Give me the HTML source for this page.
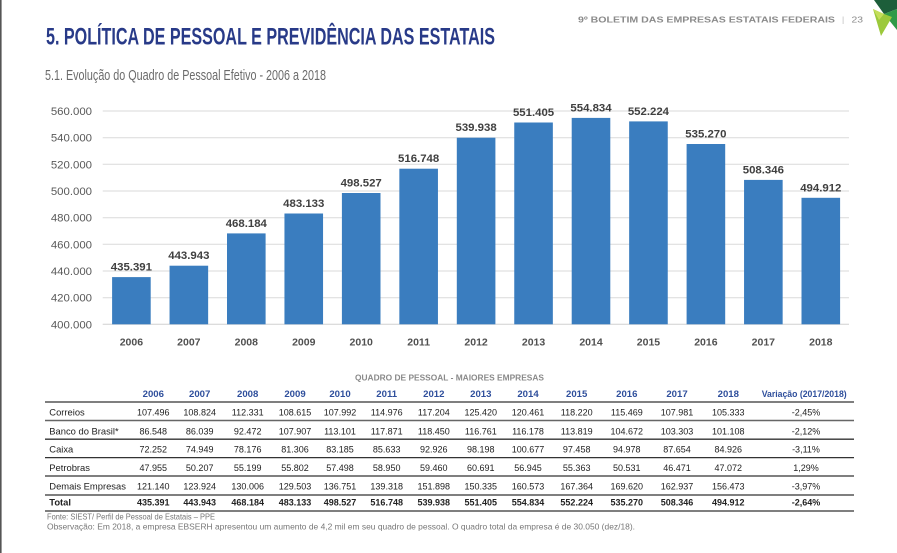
<!DOCTYPE html>
<html><head><meta charset="utf-8">
<style>
html,body{margin:0;padding:0;background:#fff;}
svg{display:block;}
text{font-family:"Liberation Sans",Arial,sans-serif;}
</style></head>
<body>
<svg width="897" height="553" viewBox="0 0 897 553" xmlns="http://www.w3.org/2000/svg">
<rect x="0" y="0" width="897" height="553" fill="#fff"/>
<rect x="0" y="0" width="1.6" height="553" fill="#555"/>

<!-- corner graphic -->
<polygon points="874,0 897,0 897,9 884,14" fill="#1d5e3a"/>
<polygon points="884,14 897,9 897,30" fill="#2f9a47"/>
<polygon points="873,9 884,14 892,17 881,36" fill="#9cc93b"/>
<polygon points="873,9 884,14 879,20" fill="#c4de5a"/>

<!-- header -->
<text x="578" y="22.7" font-size="8.4" font-weight="bold" fill="#8a8a8a" textLength="257" lengthAdjust="spacingAndGlyphs">9º BOLETIM DAS EMPRESAS ESTATAIS FEDERAIS</text>
<text x="842" y="22.7" font-size="8.4" fill="#bbb">|</text>
<text x="851.5" y="22.7" font-size="8.4" fill="#8a8a8a" textLength="11.5" lengthAdjust="spacingAndGlyphs">23</text>

<text x="46" y="44.3" font-size="24" font-weight="bold" fill="#283a88" textLength="449" lengthAdjust="spacingAndGlyphs">5. POLÍTICA DE PESSOAL E PREVIDÊNCIA DAS ESTATAIS</text>
<text x="45" y="80" font-size="14.3" fill="#6b6b6b" textLength="281" lengthAdjust="spacingAndGlyphs">5.1. Evolução do Quadro de Pessoal Efetivo - 2006 a 2018</text>

<!-- gridlines -->
<g stroke="#dadada" stroke-width="1">
<line x1="102.7" x2="849" y1="111" y2="111"/>
<line x1="102.7" x2="849" y1="137.7" y2="137.7"/>
<line x1="102.7" x2="849" y1="164.3" y2="164.3"/>
<line x1="102.7" x2="849" y1="191" y2="191"/>
<line x1="102.7" x2="849" y1="217.7" y2="217.7"/>
<line x1="102.7" x2="849" y1="244.3" y2="244.3"/>
<line x1="102.7" x2="849" y1="271" y2="271"/>
<line x1="102.7" x2="849" y1="297.7" y2="297.7"/>
<line x1="102.7" x2="849" y1="324.3" y2="324.3" stroke="#d0d0d0"/>
</g>
<g font-size="11.4" fill="#595959" text-anchor="end">
<text x="92" y="115">560.000</text>
<text x="92" y="141.7">540.000</text>
<text x="92" y="168.3">520.000</text>
<text x="92" y="195">500.000</text>
<text x="92" y="221.7">480.000</text>
<text x="92" y="248.3">460.000</text>
<text x="92" y="275">440.000</text>
<text x="92" y="301.7">420.000</text>
<text x="92" y="328.3">400.000</text>
</g>

<!-- bars -->
<g fill="#3a7dbf">
<rect x="112.1" y="277.1" width="38.6" height="47.2"/>
<rect x="169.55" y="265.7" width="38.6" height="58.6"/>
<rect x="227" y="233.4" width="38.6" height="90.9"/>
<rect x="284.45" y="213.5" width="38.6" height="110.8"/>
<rect x="341.9" y="193.0" width="38.6" height="131.3"/>
<rect x="399.35" y="168.7" width="38.6" height="155.6"/>
<rect x="456.8" y="137.7" width="38.6" height="186.6"/>
<rect x="514.25" y="122.5" width="38.6" height="201.8"/>
<rect x="571.7" y="117.9" width="38.6" height="206.4"/>
<rect x="629.15" y="121.4" width="38.6" height="202.9"/>
<rect x="686.6" y="144.0" width="38.6" height="180.3"/>
<rect x="744.05" y="179.9" width="38.6" height="144.4"/>
<rect x="801.5" y="197.8" width="38.6" height="126.5"/>
</g>
<g font-size="11.4" font-weight="bold" fill="#404040" text-anchor="middle">
<text x="131.4" y="270.6">435.391</text>
<text x="188.85" y="259.2">443.943</text>
<text x="246.3" y="226.9">468.184</text>
<text x="303.75" y="207">483.133</text>
<text x="361.2" y="186.5">498.527</text>
<text x="418.65" y="162.2">516.748</text>
<text x="476.1" y="131.2">539.938</text>
<text x="533.55" y="116">551.405</text>
<text x="591" y="111.4">554.834</text>
<text x="648.45" y="114.9">552.224</text>
<text x="705.9" y="137.5">535.270</text>
<text x="763.35" y="173.4">508.346</text>
<text x="820.8" y="191.3">494.912</text>
</g>
<g font-size="10.5" font-weight="bold" fill="#505050" text-anchor="middle">
<text x="131.4" y="345.5">2006</text>
<text x="188.85" y="345.5">2007</text>
<text x="246.3" y="345.5">2008</text>
<text x="303.75" y="345.5">2009</text>
<text x="361.2" y="345.5">2010</text>
<text x="418.65" y="345.5">2011</text>
<text x="476.1" y="345.5">2012</text>
<text x="533.55" y="345.5">2013</text>
<text x="591" y="345.5">2014</text>
<text x="648.45" y="345.5">2015</text>
<text x="705.9" y="345.5">2016</text>
<text x="763.35" y="345.5">2017</text>
<text x="820.8" y="345.5">2018</text>
</g>

<!-- table -->
<text x="449.5" y="380.5" font-size="8.5" font-weight="bold" fill="#8a8a8a" text-anchor="middle" textLength="189" lengthAdjust="spacingAndGlyphs">QUADRO DE PESSOAL - MAIORES EMPRESAS</text>
<g font-size="9.6" font-weight="bold" fill="#2f4f9c" text-anchor="middle">
<text x="153.3" y="396.8">2006</text>
<text x="199.7" y="396.8">2007</text>
<text x="247.7" y="396.8">2008</text>
<text x="295" y="396.8">2009</text>
<text x="340" y="396.8">2010</text>
<text x="386.7" y="396.8">2011</text>
<text x="433.8" y="396.8">2012</text>
<text x="480.8" y="396.8">2013</text>
<text x="528" y="396.8">2014</text>
<text x="576.7" y="396.8">2015</text>
<text x="626.8" y="396.8">2016</text>
<text x="677" y="396.8">2017</text>
<text x="728.3" y="396.8">2018</text>
<text x="804.2" y="396.8" textLength="85" lengthAdjust="spacingAndGlyphs">Variação (2017/2018)</text>
</g>
<g stroke="#333" stroke-width="1.3">
<line x1="45" x2="854" y1="402" y2="402"/>
<line x1="45" x2="854" y1="420.5" y2="420.5" stroke="#666" stroke-width="1.6"/>
<line x1="45" x2="854" y1="439.2" y2="439.2"/>
<line x1="45" x2="854" y1="457.6" y2="457.6"/>
<line x1="45" x2="854" y1="476" y2="476"/>
<line x1="45" x2="854" y1="495" y2="495"/>
<line x1="45" x2="854" y1="511" y2="511"/>
</g>
<g font-size="9.4" fill="#222">
<text x="49.3" y="415.7">Correios</text>
<text x="49.3" y="434.3">Banco do Brasil*</text>
<text x="49.3" y="452.7">Caixa</text>
<text x="49.3" y="471">Petrobras</text>
<text x="49.3" y="489.3">Demais Empresas</text>
<text x="49.3" y="505.7" font-weight="bold">Total</text>
</g>
<g font-size="9" fill="#222" text-anchor="middle">
<g transform="translate(0,415.7)">
<text x="153.3">107.496</text><text x="199.7">108.824</text><text x="247.7">112.331</text><text x="295">108.615</text><text x="340">107.992</text><text x="386.7">114.976</text><text x="433.8">117.204</text><text x="480.8">125.420</text><text x="528">120.461</text><text x="576.7">118.220</text><text x="626.8">115.469</text><text x="677">107.981</text><text x="728.3">105.333</text><text x="806">-2,45%</text>
</g>
<g transform="translate(0,434.3)">
<text x="153.3">86.548</text><text x="199.7">86.039</text><text x="247.7">92.472</text><text x="295">107.907</text><text x="340">113.101</text><text x="386.7">117.871</text><text x="433.8">118.450</text><text x="480.8">116.761</text><text x="528">116.178</text><text x="576.7">113.819</text><text x="626.8">104.672</text><text x="677">103.303</text><text x="728.3">101.108</text><text x="806">-2,12%</text>
</g>
<g transform="translate(0,452.7)">
<text x="153.3">72.252</text><text x="199.7">74.949</text><text x="247.7">78.176</text><text x="295">81.306</text><text x="340">83.185</text><text x="386.7">85.633</text><text x="433.8">92.926</text><text x="480.8">98.198</text><text x="528">100.677</text><text x="576.7">97.458</text><text x="626.8">94.978</text><text x="677">87.654</text><text x="728.3">84.926</text><text x="806">-3,11%</text>
</g>
<g transform="translate(0,471)">
<text x="153.3">47.955</text><text x="199.7">50.207</text><text x="247.7">55.199</text><text x="295">55.802</text><text x="340">57.498</text><text x="386.7">58.950</text><text x="433.8">59.460</text><text x="480.8">60.691</text><text x="528">56.945</text><text x="576.7">55.363</text><text x="626.8">50.531</text><text x="677">46.471</text><text x="728.3">47.072</text><text x="806">1,29%</text>
</g>
<g transform="translate(0,489.3)">
<text x="153.3">121.140</text><text x="199.7">123.924</text><text x="247.7">130.006</text><text x="295">129.503</text><text x="340">136.751</text><text x="386.7">139.318</text><text x="433.8">151.898</text><text x="480.8">150.335</text><text x="528">160.573</text><text x="576.7">167.364</text><text x="626.8">169.620</text><text x="677">162.937</text><text x="728.3">156.473</text><text x="806">-3,97%</text>
</g>
<g transform="translate(0,505.7)" font-weight="bold">
<text x="153.3">435.391</text><text x="199.7">443.943</text><text x="247.7">468.184</text><text x="295">483.133</text><text x="340">498.527</text><text x="386.7">516.748</text><text x="433.8">539.938</text><text x="480.8">551.405</text><text x="528">554.834</text><text x="576.7">552.224</text><text x="626.8">535.270</text><text x="677">508.346</text><text x="728.3">494.912</text><text x="806">-2,64%</text>
</g>
</g>
<text x="47" y="519.5" font-size="8.3" fill="#777" textLength="168" lengthAdjust="spacingAndGlyphs">Fonte: SIEST/ Perfil de Pessoal de Estatais – PPE</text>
<text x="47" y="529.5" font-size="8.3" fill="#777" textLength="588" lengthAdjust="spacingAndGlyphs">Observação: Em 2018, a empresa EBSERH apresentou um aumento de 4,2 mil em seu quadro de pessoal. O quadro total da empresa é de 30.050 (dez/18).</text>
</svg>
</body></html>
